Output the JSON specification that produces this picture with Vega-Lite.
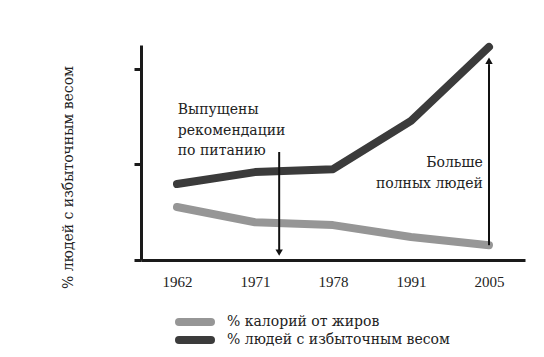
{
  "$schema": "https://vega.github.io/schema/vega-lite/v6.json",
  "width": 384,
  "height": 215,
  "autosize": {"type": "none"},
  "padding": {"left": 141, "top": 45, "right": 19, "bottom": 97},
  "background": "white",
  "config": {
    "view": {"stroke": null},
    "font": "DejaVu Serif",
    "axis": {"grid": false}
  },
  "datasets": {
    "series": [
      {"i": 0, "year": "1962", "series": "% калорий от жиров", "value": 11.1},
      {"i": 1, "year": "1971", "series": "% калорий от жиров", "value": 7.9},
      {"i": 2, "year": "1978", "series": "% калорий от жиров", "value": 7.3},
      {"i": 3, "year": "1991", "series": "% калорий от жиров", "value": 4.8},
      {"i": 4, "year": "2005", "series": "% калорий от жиров", "value": 3.1},
      {"i": 0, "year": "1962", "series": "% людей с избыточным весом", "value": 15.9},
      {"i": 1, "year": "1971", "series": "% людей с избыточным весом", "value": 18.4},
      {"i": 2, "year": "1978", "series": "% людей с избыточным весом", "value": 19.0},
      {"i": 3, "year": "1991", "series": "% людей с избыточным весом", "value": 29.1},
      {"i": 4, "year": "2005", "series": "% людей с избыточным весом", "value": 44.6}
    ],
    "arrows": [
      {"x": 1.31, "y": 22.6, "y2": 2.0, "head": 1.55, "dir": "down"},
      {"x": 4.0, "y": 3.1, "y2": 41.0, "head": 41.7, "dir": "up"}
    ],
    "notesLeft": [
      {"x": 0.01, "y": 31.4, "text": "Выпущены"},
      {"x": 0.01, "y": 27.0, "text": "рекомендации"},
      {"x": 0.01, "y": 22.8, "text": "по питанию"}
    ],
    "notesRight": [
      {"x": 3.92, "y": 20.3, "text": "Больше"},
      {"x": 3.92, "y": 15.9, "text": "полных людей"}
    ]
  },
  "layer": [
    {
      "data": {"name": "series"},
      "mark": {"type": "line", "strokeWidth": 8, "strokeCap": "round", "strokeJoin": "round"},
      "encoding": {
        "x": {
          "field": "i", "type": "quantitative",
          "scale": {"domain": [-0.4615, 4.4615], "nice": false, "zero": false},
          "axis": {
            "title": null, "values": [0, 1, 2, 3, 4], "ticks": false,
            "labelExpr": "['1962','1971','1978','1991','2005'][datum.value]",
            "labelFont": "Liberation Serif", "labelFontSize": 15, "labelColor": "#222",
            "labelPadding": 14, "domainColor": "#1a1a1a", "domainWidth": 3
          }
        },
        "y": {
          "field": "value", "type": "quantitative",
          "scale": {"domain": [0, 45], "nice": false},
          "axis": {
            "title": "% людей с избыточным весом", "values": [0, 20, 40],
            "labels": false, "ticks": true, "tickSize": 7, "tickWidth": 3, "tickColor": "#1a1a1a",
            "domainColor": "#1a1a1a", "domainWidth": 3,
            "titleFont": "DejaVu Serif", "titleFontSize": 14, "titleFontWeight": "normal",
            "titleColor": "#222", "titleAngle": 270, "titleAlign": "center", "titleBaseline": "middle",
            "titleX": -73, "titleY": 132
          }
        },
        "color": {
          "field": "series", "type": "nominal",
          "scale": {"domain": ["% калорий от жиров", "% людей с избыточным весом"], "range": ["#969696", "#3b3b3b"]},
          "legend": {
            "title": null, "orient": "none", "legendX": 30, "legendY": 268,
            "symbolType": "M0,0H8", "symbolSize": 64, "symbolStrokeWidth": 8,
            "labelFont": "DejaVu Serif", "labelFontSize": 14, "labelColor": "#222", "labelLimit": 400,
            "labelOffset": 40, "rowPadding": 0, "clipHeight": 18,
            "encode": {"symbols": {"update": {"strokeCap": {"value": "round"}}}}
          }
        }
      }
    },
    {
      "data": {"name": "arrows"},
      "mark": {"type": "rule", "strokeWidth": 2, "color": "#111"},
      "encoding": {
        "x": {"field": "x", "type": "quantitative"},
        "y": {"field": "y", "type": "quantitative"},
        "y2": {"field": "y2"}
      }
    },
    {
      "data": {"name": "arrows"},
      "mark": {"type": "point", "filled": true, "opacity": 1, "color": "#111", "size": 55},
      "encoding": {
        "x": {"field": "x", "type": "quantitative"},
        "y": {"field": "head", "type": "quantitative"},
        "shape": {"field": "dir", "type": "nominal", "scale": {"domain": ["down", "up"], "range": ["triangle-down", "triangle-up"]}, "legend": null}
      }
    },
    {
      "data": {"name": "notesLeft"},
      "mark": {"type": "text", "align": "left", "baseline": "middle", "font": "DejaVu Serif", "fontSize": 14, "color": "#222"},
      "encoding": {
        "x": {"field": "x", "type": "quantitative"},
        "y": {"field": "y", "type": "quantitative"},
        "text": {"field": "text"}
      }
    },
    {
      "data": {"name": "notesRight"},
      "mark": {"type": "text", "align": "right", "baseline": "middle", "font": "DejaVu Serif", "fontSize": 14, "color": "#222"},
      "encoding": {
        "x": {"field": "x", "type": "quantitative"},
        "y": {"field": "y", "type": "quantitative"},
        "text": {"field": "text"}
      }
    }
  ]
}
